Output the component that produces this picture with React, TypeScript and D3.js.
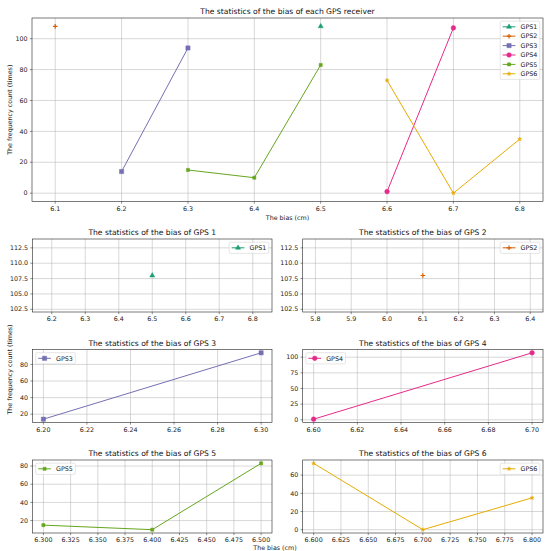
import React from 'react';
import * as d3 from 'd3';

// Series data
const gpsNames = ['GPS1', 'GPS2', 'GPS3', 'GPS4', 'GPS5', 'GPS6'];
const gpsColors = ['#1b9e77', '#d95f02', '#7570b3', '#e7298a', '#66a61e', '#e6ab02'];
const gpsMarkers = ['triangle', 'plus', 'square', 'circle', 'smallSquare', 'star'];

const biasGps1 = [6.5];
const countGps1 = [108];
const biasGps2 = [6.1];
const countGps2 = [108];
const biasGps3 = [6.2, 6.3];
const countGps3 = [14, 94];
const biasGps4 = [6.6, 6.7];
const countGps4 = [1, 107];
const biasGps5 = [6.3, 6.4, 6.5];
const countGps5 = [15, 10, 83];
const biasGps6 = [6.6, 6.7, 6.8];
const countGps6 = [73, 0, 35];

const allBias = [biasGps1, biasGps2, biasGps3, biasGps4, biasGps5, biasGps6];
const allCounts = [countGps1, countGps2, countGps3, countGps4, countGps5, countGps6];

// Tick labels
const topXTicks = [6.1, 6.2, 6.3, 6.4, 6.5, 6.6, 6.7, 6.8];
const topYTicks = [0, 20, 40, 60, 80, 100];
const gps1XTicks = [6.2, 6.3, 6.4, 6.5, 6.6, 6.7, 6.8];
const gps1YTicks = [102.5, 105, 107.5, 110, 112.5];
const gps2XTicks = [5.8, 5.9, 6.0, 6.1, 6.2, 6.3, 6.4];
const gps2YTicks = [102.5, 105, 107.5, 110, 112.5];
const gps3XTicks = [6.2, 6.22, 6.24, 6.26, 6.28, 6.3];
const gps3YTicks = [20, 40, 60, 80];
const gps4XTicks = [6.6, 6.62, 6.64, 6.66, 6.68, 6.7];
const gps4YTicks = [0, 25, 50, 75, 100];
const gps5XTicks = [6.3, 6.325, 6.35, 6.375, 6.4, 6.425, 6.45, 6.475, 6.5];
const gps5YTicks = [20, 40, 60, 80];
const gps6XTicks = [6.6, 6.625, 6.65, 6.675, 6.7, 6.725, 6.75, 6.775, 6.8];
const gps6YTicks = [0, 20, 40, 60];

const FONT = 'DejaVu Sans';
const TITLE_SIZE = 7.6;
const TICK_SIZE = 6.35;

// matplotlib style autoscale: widen a single value, then add 5% margins
function mplExtent(vals: number[]): [number, number] {
  let lo = d3.min(vals)!;
  let hi = d3.max(vals)!;
  if (lo === hi) {
    const d = lo === 0 ? 0.1 : Math.abs(lo) * 0.05;
    lo -= d;
    hi += d;
  }
  const m = (hi - lo) * 0.05;
  return [lo - m, hi + m];
}

function Marker({ kind, color, x, y }: { kind: string; color: string; x: number; y: number }) {
  if (kind === 'plus') {
    return (
      <path
        d={`M${x - 2.3},${y}H${x + 2.3}M${x},${y - 2.3}V${y + 2.3}`}
        stroke={color}
        strokeWidth={1.2}
        fill="none"
      />
    );
  }
  const types: Record<string, d3.SymbolType> = {
    triangle: d3.symbolTriangle,
    square: d3.symbolSquare,
    circle: d3.symbolCircle,
    smallSquare: d3.symbolSquare,
    star: d3.symbolStar,
  };
  const sizes: Record<string, number> = { triangle: 11, square: 18, circle: 17, smallSquare: 10, star: 5 };
  const d = d3.symbol(types[kind], sizes[kind])() || '';
  return (
    <path transform={`translate(${x},${y})`} d={d} fill={color} stroke={color} strokeWidth={0.5} />
  );
}

interface PanelProps {
  left: number;
  top: number;
  width: number;
  height: number;
  series: number[];
  xTicks: number[];
  yTicks: number[];
  xDigits: number;
  yDigits: number;
  title: string;
  legendRight: boolean;
}

const Panel: React.FC<PanelProps> = ({
  left, top, width, height, series, xTicks, yTicks, xDigits, yDigits, title, legendRight,
}) => {
  const xs = series.flatMap((i) => allBias[i]);
  const ys = series.flatMap((i) => allCounts[i]);
  const x = d3.scaleLinear().domain(mplExtent(xs)).range([left, left + width]);
  const y = d3.scaleLinear().domain(mplExtent(ys)).range([top + height, top]);
  const line = d3
    .line<[number, number]>()
    .x((d) => x(d[0]))
    .y((d) => y(d[1]));
  const bottom = top + height;
  const right = left + width;

  // legend geometry (matplotlib defaults, scaled)
  const fs = TICK_SIZE;
  const rowH = 6.2;
  const gap = 3.2;
  const pad = 2.5;
  const handleLen = 12.7;
  const textW = 16.8;
  const boxW = pad + handleLen + 5.1 + textW + pad;
  const boxH = pad * 2 + series.length * rowH + (series.length - 1) * gap;
  const boxX = legendRight ? right - 3.2 - boxW : left + 3.2;
  const boxY = top + 3.2;

  return (
    <g>
      {xTicks.map((t) => (
        <line key={'gx' + t} x1={x(t)} x2={x(t)} y1={top} y2={bottom} stroke="#b0b0b0" strokeWidth={0.5} />
      ))}
      {yTicks.map((t) => (
        <line key={'gy' + t} x1={left} x2={right} y1={y(t)} y2={y(t)} stroke="#b0b0b0" strokeWidth={0.5} />
      ))}
      {series.map((i) => {
        const pts = allBias[i].map((b, k) => [b, allCounts[i][k]] as [number, number]);
        return (
          <g key={'s' + i}>
            <path d={line(pts) || ''} fill="none" stroke={gpsColors[i]} strokeWidth={1} />
            {pts.map((p, k) => (
              <Marker key={k} kind={gpsMarkers[i]} color={gpsColors[i]} x={x(p[0])} y={y(p[1])} />
            ))}
          </g>
        );
      })}
      <rect x={left} y={top} width={width} height={height} fill="none" stroke="#222" strokeWidth={0.6} />
      {xTicks.map((t) => (
        <g key={'tx' + t}>
          <line x1={x(t)} x2={x(t)} y1={bottom} y2={bottom + 2.2} stroke="#222" strokeWidth={0.5} />
          <text x={x(t)} y={bottom + 9.2} textAnchor="middle" fontSize={TICK_SIZE} fontFamily={FONT} fill="#222">
            {t.toFixed(xDigits)}
          </text>
        </g>
      ))}
      {yTicks.map((t) => (
        <g key={'ty' + t}>
          <line x1={left - 2.2} x2={left} y1={y(t)} y2={y(t)} stroke="#222" strokeWidth={0.5} />
          <text x={left - 4.4} y={y(t) + 2.2} textAnchor="end" fontSize={TICK_SIZE} fontFamily={FONT} fill="#222">
            {t.toFixed(yDigits)}
          </text>
        </g>
      ))}
      <text x={(left + right) / 2} y={top - 3.8} textAnchor="middle" fontSize={TITLE_SIZE} fontFamily={FONT} fill="#111">
        {title}
      </text>
      <rect x={boxX} y={boxY} width={boxW} height={boxH} rx={1.3} fill="#fff" fillOpacity={0.8} stroke="#cccccc" strokeWidth={0.5} />
      {series.map((i, k) => {
        const cy = boxY + pad + rowH / 2 + k * (rowH + gap);
        const hx = boxX + pad;
        return (
          <g key={'l' + i}>
            <line x1={hx} x2={hx + handleLen} y1={cy} y2={cy} stroke={gpsColors[i]} strokeWidth={1} />
            <Marker kind={gpsMarkers[i]} color={gpsColors[i]} x={hx + handleLen / 2} y={cy} />
            <text x={hx + handleLen + 5.1} y={cy + 2.2} fontSize={fs} fontFamily={FONT} fill="#222">
              {gpsNames[i]}
            </text>
          </g>
        );
      })}
    </g>
  );
};

const colL = [32.5, 239.5];
const colR = [302.7, 240.3];
const rowTops = [239, 349.5, 460];
const rowH = 73;

export default function App() {
  return (
    <svg
      width={550}
      height={551}
      style={{ position: 'absolute', left: 0, top: 0, display: 'block', background: '#fff' }}
    >
      <Panel
        left={32}
        top={18}
        width={511}
        height={183.5}
        series={[0, 1, 2, 3, 4, 5]}
        xTicks={topXTicks}
        yTicks={topYTicks}
        xDigits={1}
        yDigits={0}
        title="The statistics of the bias of each GPS receiver"
        legendRight
      />
      <text x={287.5} y={219.8} textAnchor="middle" fontSize={TICK_SIZE} fontFamily={FONT} fill="#222">
        The bias (cm)
      </text>
      <text
        transform="translate(12.3,109.7) rotate(-90)"
        textAnchor="middle"
        fontSize={TICK_SIZE}
        fontFamily={FONT}
        fill="#222"
      >
        The frequency count (times)
      </text>

      <Panel left={colL[0]} top={rowTops[0]} width={colL[1]} height={rowH} series={[0]} xTicks={gps1XTicks} yTicks={gps1YTicks} xDigits={1} yDigits={1} title="The statistics of the bias of GPS 1" legendRight />
      <Panel left={colR[0]} top={rowTops[0]} width={colR[1]} height={rowH} series={[1]} xTicks={gps2XTicks} yTicks={gps2YTicks} xDigits={1} yDigits={1} title="The statistics of the bias of GPS 2" legendRight />
      <Panel left={colL[0]} top={rowTops[1]} width={colL[1]} height={rowH} series={[2]} xTicks={gps3XTicks} yTicks={gps3YTicks} xDigits={2} yDigits={0} title="The statistics of the bias of GPS 3" legendRight={false} />
      <Panel left={colR[0]} top={rowTops[1]} width={colR[1]} height={rowH} series={[3]} xTicks={gps4XTicks} yTicks={gps4YTicks} xDigits={2} yDigits={0} title="The statistics of the bias of GPS 4" legendRight={false} />
      <Panel left={colL[0]} top={rowTops[2]} width={colL[1]} height={rowH} series={[4]} xTicks={gps5XTicks} yTicks={gps5YTicks} xDigits={3} yDigits={0} title="The statistics of the bias of GPS 5" legendRight={false} />
      <Panel left={colR[0]} top={rowTops[2]} width={colR[1]} height={rowH} series={[5]} xTicks={gps6XTicks} yTicks={gps6YTicks} xDigits={3} yDigits={0} title="The statistics of the bias of GPS 6" legendRight />

      <text x={275} y={549.5} textAnchor="middle" fontSize={TICK_SIZE} fontFamily={FONT} fill="#222">
        The bias (cm)
      </text>
      <text
        transform="translate(12.3,369.5) rotate(-90)"
        textAnchor="middle"
        fontSize={TICK_SIZE}
        fontFamily={FONT}
        fill="#222"
      >
        The frequency count (times)
      </text>
    </svg>
  );
}
